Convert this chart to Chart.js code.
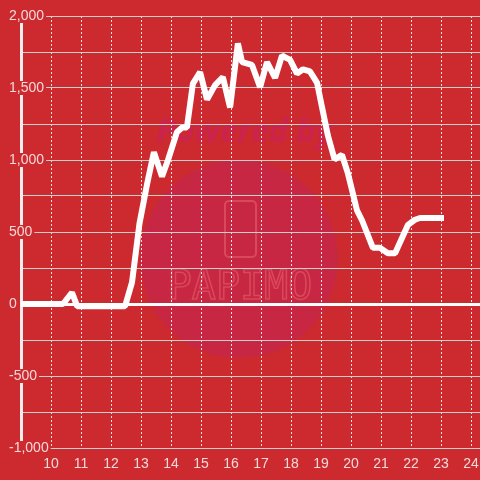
<!DOCTYPE html>
<html>
<head>
    <title>Line chart</title>
    <script src="https://cdn.jsdelivr.net/npm/chart.js"></script>
    <style>
        body {
            margin: 0;
            background: #cc2a2f;
        }

        canvas {
            display: block;
            background: #cc2a2f;
        }
    </style>
</head>
<body>
<canvas id="chart" width="480" height="480"></canvas>

<script>
    // hours of the day (x) and values (y)
    const hours = [9, 10.4, 10.7, 10.87, 12.47, 12.7, 12.95, 13.2, 13.43, 13.7, 13.9, 14.2, 14.37, 14.53,
        14.73, 14.97, 15.2, 15.47, 15.73, 15.97, 16.23, 16.37, 16.7, 16.97, 17.2, 17.47, 17.7, 17.97,
        18.2, 18.4, 18.63, 18.87, 19.03, 19.23, 19.45, 19.7, 19.9, 20.2, 20.37, 20.73, 20.97, 21.23,
        21.47, 21.9, 22.13, 22.3, 23.0];
    const values = [0, 0, 80, -15, -15, 150, 560, 830, 1055, 885, 1000, 1195, 1225, 1225,
        1530, 1610, 1420, 1520, 1575, 1365, 1810, 1680, 1660, 1505, 1680, 1570, 1725, 1695,
        1600, 1630, 1615, 1535, 1370, 1170, 1005, 1035, 905, 650, 580, 390, 390, 352,
        352, 550, 585, 597, 597];

    const xMin = 9, xMax = 24.3;
    const yMin = -1000, yMax = 2000;

    const bg = '#cc2a2f';
    const labelColor = 'rgba(255,255,255,0.82)';
    const fontFamily = '"Liberation Sans", Arial, sans-serif';

    // faint "Powered by PAPIMO" watermark behind the grid
    const watermark = {
        id: 'watermark',
        beforeDraw(chart) {
            const ctx = chart.ctx;
            ctx.save();
            ctx.fillStyle = 'rgba(196,36,92,0.45)';
            ctx.beginPath();
            ctx.arc(239, 259, 99, 0, Math.PI * 2);
            ctx.fill();

            ctx.textAlign = 'center';
            ctx.textBaseline = 'middle';
            ctx.fillStyle = 'rgba(200,30,95,0.6)';
            ctx.font = 'italic bold 32px "Open Sans"';
            ctx.fillText('Powered by', 244, 133);

            ctx.strokeStyle = 'rgba(235,105,115,0.5)';
            ctx.lineWidth = 2;
            ctx.beginPath();
            ctx.roundRect(225, 201, 31, 56, 4);
            ctx.stroke();
            ctx.font = '40px "DejaVu Sans Mono"';
            ctx.lineWidth = 1.5;
            ctx.strokeText('PAPIMO', 240, 289);
            ctx.restore();
        }
    };

    const ctx = document.getElementById('chart').getContext('2d');
    const chart = new Chart(ctx, {
        type: 'line',
        data: {
            datasets: [{
                data: hours.map((h, i) => ({x: h, y: values[i]})),
                borderColor: '#ffffff',
                borderWidth: 6,
                borderCapStyle: 'square',
                borderJoinStyle: 'bevel',
                pointRadius: 0,
                tension: 0,
                fill: false
            }]
        },
        options: {
            responsive: false,
            animation: false,
            layout: {
                padding: {top: 16, bottom: 0, left: 0, right: 0}
            },
            plugins: {
                legend: {display: false},
                tooltip: {enabled: false}
            },
            scales: {
                x: {
                    type: 'linear',
                    min: xMin,
                    max: xMax,
                    afterFit: s => {
                        s.height = 32;
                        s.paddingLeft = 0;
                        s.paddingRight = 0;
                    },
                    ticks: {
                        stepSize: 1,
                        includeBounds: false,
                        autoSkip: false,
                        maxRotation: 0,
                        padding: 8,
                        color: labelColor,
                        font: {family: fontFamily, size: 14},
                        callback: v => v === xMin ? '' : v
                    },
                    grid: {
                        color: 'rgba(255,255,255,0.85)',
                        lineWidth: 1,
                        drawTicks: false
                    },
                    border: {
                        color: '#cfcfcf',
                        width: 1,
                        dash: [2, 2]
                    }
                },
                y: {
                    min: yMin,
                    max: yMax,
                    afterFit: s => { s.width = 21; },
                    ticks: {
                        stepSize: 250,
                        mirror: true,
                        crossAlign: 'near',
                        padding: -12,
                        color: labelColor,
                        font: {family: fontFamily, size: 14, lineHeight: 1},
                        callback: v => v % 500 === 0 ? v.toLocaleString('en-US') : '',
                        showLabelBackdrop: c => c.tick && c.tick.value % 500 === 0,
                        backdropColor: bg,
                        backdropPadding: {x: 2, y: 0}
                    },
                    grid: {
                        color: c => c.tick && c.tick.value === 0 ? '#ffffff' : '#cfcfcf',
                        lineWidth: c => c.tick && c.tick.value === 0 ? 3 : 1,
                        drawTicks: false
                    },
                    border: {
                        color: '#eeeeee',
                        width: 3
                    }
                }
            }
        },
        plugins: [watermark]
    });
</script>
</body>
</html>
